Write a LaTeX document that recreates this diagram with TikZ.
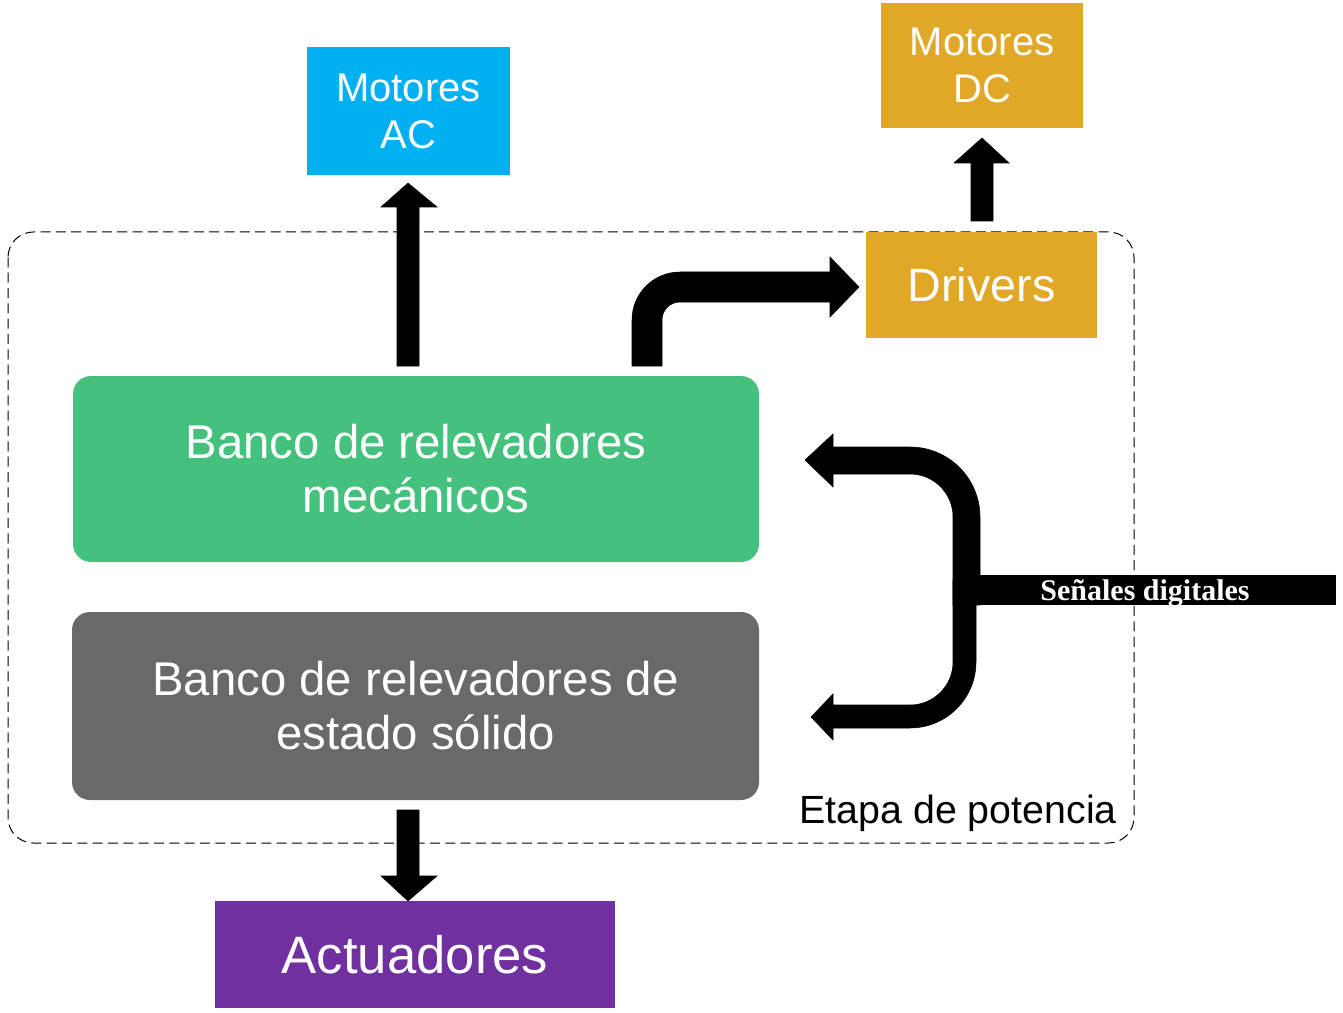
\documentclass[tikz,border=0pt]{standalone}
\usepackage{fontspec}
\setmainfont{Liberation Sans}
\newfontfamily\serifbold{Liberation Serif}
\definecolor{acblue}{HTML}{00B0F0}
\definecolor{dcgold}{HTML}{E0A826}
\definecolor{relgreen}{HTML}{45C17E}
\definecolor{relgray}{HTML}{696969}
\definecolor{actpurple}{HTML}{7030A0}
\begin{document}
\begin{tikzpicture}[x=0.75pt,y=-0.75pt,
  box/.style={inner sep=0pt, align=center, text=white},
  blockarrow/.style={fill=black, draw=black, line width=0.4pt}]
\useasboundingbox (0,0) rectangle (1343,1013);
% container
\draw[dash pattern=on 7.5pt off 4pt, line width=0.75pt, rounded corners=19pt] (8,232) rectangle (1134,843);
\node[anchor=east, inner sep=0pt, font=\fontsize{29.5}{34}\selectfont] (etapa) at (1117,813) {Etapa de potencia};
% boxes
\node[box, fill=acblue, minimum width=152.25pt, minimum height=96pt, font=\fontsize{30}{35.25}\selectfont] (ac) at (408.5,111) {Motores\\AC};
\node[box, fill=dcgold, minimum width=151.5pt, minimum height=93.75pt, font=\fontsize{30}{35.25}\selectfont] (dc) at (982,65.5) {Motores\\DC};
\node[box, fill=dcgold, minimum width=173.25pt, minimum height=79.5pt, font=\fontsize{35}{40}\selectfont] (drv) at (981.5,285) {Drivers};
\node[box, fill=relgreen, rounded corners=13.5pt, minimum width=514.5pt, minimum height=139.5pt, font=\fontsize{35.5}{40.5}\selectfont] (mec) at (416,469) {Banco de relevadores\\mecánicos};
\node[box, fill=relgray, rounded corners=13.5pt, minimum width=515.25pt, minimum height=141pt, font=\fontsize{35.5}{40.5}\selectfont] (ssr) at (415.5,706) {Banco de relevadores de\\estado sólido};
\node[box, fill=actpurple, minimum width=300pt, minimum height=80.25pt, font=\fontsize{39.5}{45}\selectfont] (act) at (415,954.5) {Actuadores};
% block arrows
\path[blockarrow] (397,366) -- (397,207) -- (381,207) -- (408,183) -- (437,207) -- (419,207) -- (419,366) -- cycle;
\path[blockarrow] (397,810) -- (397,876) -- (381,876) -- (408,901) -- (437,876) -- (419,876) -- (419,810) -- cycle;
\path[blockarrow] (971,221) -- (971,163) -- (954,163) -- (982,138) -- (1009,163) -- (993,163) -- (993,221) -- cycle;
\path[blockarrow] (632,366) -- (632,320) arc (180:270:48) -- (830,272) -- (830,257) -- (859,287) -- (830,317) -- (830,302) -- (680,302) arc (270:180:18) -- (662,366) -- cycle;
\path[blockarrow] (805,460) -- (833,434) -- (833,447) -- (910,447) arc (-90:0:70) -- (980,605) -- (953,605) -- (953,517) arc (0:-90:43) -- (833,474) -- (833,487) -- cycle;
\path[blockarrow] (811,717) -- (833,694) -- (833,705) -- (910,705) arc (90:0:43) -- (953,580) -- (976,580) -- (976,662) arc (0:90:66) -- (833,728) -- (833,740) -- cycle;
% signals bar
\fill[black] (975,575) rectangle (1336,605);
\node[text=white, inner sep=0pt, font=\serifbold\bfseries\fontsize{22.5}{26}\selectfont] (sen) at (1145,593) {Señales digitales};
\end{tikzpicture}
\end{document}
